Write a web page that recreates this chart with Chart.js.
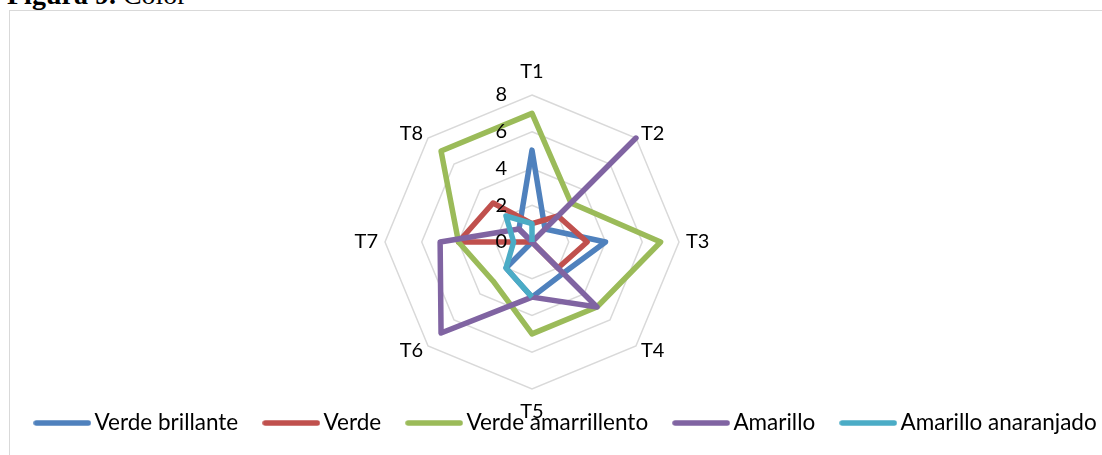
<!DOCTYPE html>
<html><head><meta charset="utf-8">
<script src="https://cdn.jsdelivr.net/npm/chart.js@4.4.1/dist/chart.umd.min.js"></script>
<style>
html,body{margin:0;padding:0;background:#fff;overflow:hidden;width:1102px;height:455px;position:relative;}
#title{position:absolute;left:7px;top:-19px;font-family:"Liberation Serif","Times New Roman",serif;font-size:28px;line-height:28px;color:#000;white-space:nowrap;}
#frame{position:absolute;left:9px;top:10px;width:1120px;height:470px;border:1px solid #d9d9d9;}
#c{position:absolute;left:-118px;top:11px;}
</style></head><body>
<div id="title"><b>Figura 9.</b> Color</div>
<div id="frame"></div>
<canvas id="c" width="1300" height="444"></canvas>
<script>
// ---- data ----
const categories = ['T1', 'T2', 'T3', 'T4', 'T5', 'T6', 'T7', 'T8'];
const seriesNames = ['Verde brillante', 'Verde', 'Verde amarrillento', 'Amarillo', 'Amarillo anaranjado'];
const verdeBrillante = [5, 1, 4, 2.4, 3, 2, 0, 1];
const verde = [1, 2, 3, 2, 0, 0, 4, 3];
const verdeAmarrillento = [7, 3, 7, 5, 5, 3, 4, 7];
const amarillo = [0, 8, 0, 5, 3, 7, 5, 1];
const amarilloAnaranjado = [1, 0, null, null, 3, 2, 1, 2];
const tickValues = [0, 2, 4, 6, 8];

// ---- styles ----
const colors = ['#4f81bd', '#c0504d', '#9bbb59', '#8064a2', '#4bacc6'];
const seriesValues = [verdeBrillante, verde, verdeAmarrillento, amarillo, amarilloAnaranjado];
const FONT_FAMILY = 'Lato';
const FONT_SIZE = 20;
const LEGEND_FONT_SIZE = 22.5;

function legendSample(color) {
  const c = document.createElement('canvas');
  c.width = 58; c.height = 8;
  const g = c.getContext('2d');
  g.strokeStyle = color; g.lineWidth = 5.5; g.lineCap = 'round';
  g.beginPath(); g.moveTo(3, 4); g.lineTo(55, 4); g.stroke();
  return c;
}
const samples = colors.map(legendSample);

const legendShift = {
  id: 'legendShift',
  afterLayout(chart) {
    const lg = chart.legend;
    const h = lg.bottom - lg.top;
    lg.top = 368.75; lg.bottom = 368.75 + h;
    lg.left += 37; lg.right += 37;
  }
};

const axisText = {
  id: 'axisText',
  afterDraw(chart) {
    const s = chart.scales.r, ctx = chart.ctx;
    const r = s.drawingArea;
    ctx.save();
    ctx.fillStyle = '#000';
    ctx.font = FONT_SIZE + 'px ' + FONT_FAMILY;
    ctx.textBaseline = 'middle';
    ctx.textAlign = 'right';
    s.ticks.forEach(t => {
      const y = s.yCenter - s.getDistanceFromCenterForValue(t.value);
      ctx.fillText(t.label, s.xCenter - 25, y);
    });
    chart.data.labels.forEach((lab, i) => {
      const a = s.getIndexAngle(i);
      const sx = Math.sin(a);
      let d, align;
      if (Math.abs(sx) < 0.01) { d = r + 23; align = 'center'; }
      else { d = r + 7; align = sx > 0 ? 'left' : 'right'; }
      const p = s.getPointPosition(i, d);
      ctx.textAlign = align;
      ctx.fillText(lab, p.x, p.y);
    });
    ctx.restore();
  }
};

Chart.defaults.color = '#000';
Chart.defaults.font.family = FONT_FAMILY;
Chart.defaults.font.size = FONT_SIZE;

new Chart(document.getElementById('c'), {
  type: 'radar',
  data: {
    labels: categories,
    datasets: seriesNames.map((name, i) => ({
      label: name,
      data: seriesValues[i],
      borderColor: colors[i],
      backgroundColor: colors[i],
      borderWidth: 5.5,
      borderJoinStyle: 'round',
      fill: false,
      pointRadius: 0,
      pointHoverRadius: 0,
      spanGaps: false,
      order: seriesNames.length - i
    }))
  },
  options: {
    responsive: false,
    animation: false,
    devicePixelRatio: 1,
    layout: { padding: { left: 0, right: 0, top: 84, bottom: 1.5 } },
    scales: {
      r: {
        min: tickValues[0],
        max: tickValues[tickValues.length - 1],
        ticks: { display: false, stepSize: tickValues[1] - tickValues[0] },
        pointLabels: { display: false },
        angleLines: { display: false },
        grid: { color: '#d9d9d9', lineWidth: 1.5, circular: false }
      }
    },
    plugins: {
      tooltip: { enabled: false },
      legend: {
        position: 'bottom',
        labels: {
          usePointStyle: true,
          pointStyleWidth: 42,
          padding: 32,
          font: { family: FONT_FAMILY, size: LEGEND_FONT_SIZE },
          color: '#000',
          sort: (a, b) => a.datasetIndex - b.datasetIndex,
          generateLabels(chart) {
            const items = Chart.defaults.plugins.legend.labels.generateLabels(chart);
            return items.map(it => Object.assign(it, { pointStyle: samples[it.datasetIndex], lineWidth: 0 }));
          }
        }
      }
    }
  },
  plugins: [legendShift, axisText]
});
</script>
</body></html>
